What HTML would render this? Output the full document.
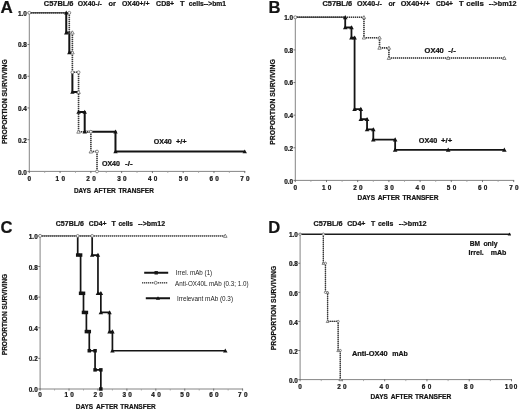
<!DOCTYPE html>
<html><head><meta charset="utf-8"><title>Figure</title>
<style>
html,body{margin:0;padding:0;background:#fff;}
body{width:520px;height:411px;overflow:hidden;font-family:"Liberation Sans", sans-serif;}
svg{display:block;font-family:"Liberation Sans", sans-serif;filter:blur(0.3px);}
</style></head>
<body>
<svg width="520" height="411" viewBox="0 0 520 411">
<rect width="520" height="411" fill="#fff"/>
<path d="M29.3 12.3V171.4H245.16" fill="none" stroke="#666" stroke-width="0.8"/>
<path d="M27.5 171.4H29.3M27.5 139.68H29.3M27.5 107.96H29.3M27.5 76.24H29.3M27.5 44.52H29.3M27.5 12.8H29.3M29.3 171.0V173.1M60.08 171.0V173.1M90.86 171.0V173.1M121.64 171.0V173.1M152.42 171.0V173.1M183.2 171.0V173.1M213.98 171.0V173.1M244.76 171.0V173.1" fill="none" stroke="#666" stroke-width="0.9"/>
<path d="M44.69 171.4V172.9M75.47 171.4V172.9M106.25 171.4V172.9M137.03 171.4V172.9M167.81 171.4V172.9M198.59 171.4V172.9M229.37 171.4V172.9" fill="none" stroke="#9a9a9a" stroke-width="0.8"/>
<text x="26.80" y="174.70" font-size="6.4" font-weight="bold" text-anchor="end" fill="#141414" stroke="#141414" stroke-width="0.22" xml:space="preserve">0.0</text>
<text x="26.80" y="142.86" font-size="6.4" font-weight="bold" text-anchor="end" fill="#141414" stroke="#141414" stroke-width="0.22" xml:space="preserve">0.2</text>
<text x="26.80" y="111.02" font-size="6.4" font-weight="bold" text-anchor="end" fill="#141414" stroke="#141414" stroke-width="0.22" xml:space="preserve">0.4</text>
<text x="26.80" y="79.18" font-size="6.4" font-weight="bold" text-anchor="end" fill="#141414" stroke="#141414" stroke-width="0.22" xml:space="preserve">0.6</text>
<text x="26.80" y="47.34" font-size="6.4" font-weight="bold" text-anchor="end" fill="#141414" stroke="#141414" stroke-width="0.22" xml:space="preserve">0.8</text>
<text x="26.80" y="15.50" font-size="6.4" font-weight="bold" text-anchor="end" fill="#141414" stroke="#141414" stroke-width="0.22" xml:space="preserve">1.0</text>
<text x="29.30" y="180.60" font-size="6.4" font-weight="bold" text-anchor="middle" fill="#141414" stroke="#141414" stroke-width="0.22" xml:space="preserve">0</text>
<text x="55.57" y="180.60" font-size="6.4" font-weight="bold" letter-spacing="2.3" fill="#141414" stroke="#141414" stroke-width="0.22" xml:space="preserve">10</text>
<text x="86.35" y="180.60" font-size="6.4" font-weight="bold" letter-spacing="2.3" fill="#141414" stroke="#141414" stroke-width="0.22" xml:space="preserve">20</text>
<text x="117.13" y="180.60" font-size="6.4" font-weight="bold" letter-spacing="2.3" fill="#141414" stroke="#141414" stroke-width="0.22" xml:space="preserve">30</text>
<text x="147.91" y="180.60" font-size="6.4" font-weight="bold" letter-spacing="2.3" fill="#141414" stroke="#141414" stroke-width="0.22" xml:space="preserve">40</text>
<text x="178.69" y="180.60" font-size="6.4" font-weight="bold" letter-spacing="2.3" fill="#141414" stroke="#141414" stroke-width="0.22" xml:space="preserve">50</text>
<text x="209.47" y="180.60" font-size="6.4" font-weight="bold" letter-spacing="2.3" fill="#141414" stroke="#141414" stroke-width="0.22" xml:space="preserve">60</text>
<text x="240.25" y="180.60" font-size="6.4" font-weight="bold" letter-spacing="2.3" fill="#141414" stroke="#141414" stroke-width="0.22" xml:space="preserve">70</text>
<text x="0.60" y="13.00" font-size="17" font-weight="bold" fill="#141414" stroke="#141414" stroke-width="0.22" xml:space="preserve">A</text>
<text x="43.80" y="6.20" font-size="6.9" font-weight="bold" textLength="29.70" lengthAdjust="spacingAndGlyphs" fill="#141414" stroke="#141414" stroke-width="0.22" xml:space="preserve">C57BL/6</text>
<text x="77.70" y="6.20" font-size="6.9" font-weight="bold" textLength="24.20" lengthAdjust="spacingAndGlyphs" fill="#141414" stroke="#141414" stroke-width="0.22" xml:space="preserve">OX40-/-</text>
<text x="108.40" y="6.20" font-size="6.9" font-weight="bold" textLength="7.40" lengthAdjust="spacingAndGlyphs" fill="#141414" stroke="#141414" stroke-width="0.22" xml:space="preserve">or</text>
<text x="121.90" y="6.20" font-size="6.9" font-weight="bold" textLength="27.70" lengthAdjust="spacingAndGlyphs" fill="#141414" stroke="#141414" stroke-width="0.22" xml:space="preserve">OX40+/+</text>
<text x="156.10" y="6.20" font-size="6.9" font-weight="bold" textLength="18.10" lengthAdjust="spacingAndGlyphs" fill="#141414" stroke="#141414" stroke-width="0.22" xml:space="preserve">CD8+</text>
<text x="180.00" y="6.20" font-size="6.9" font-weight="bold" textLength="4.60" lengthAdjust="spacingAndGlyphs" fill="#141414" stroke="#141414" stroke-width="0.22" xml:space="preserve">T</text>
<text x="188.80" y="6.20" font-size="6.9" font-weight="bold" textLength="37.20" lengthAdjust="spacingAndGlyphs" fill="#141414" stroke="#141414" stroke-width="0.22" xml:space="preserve">cells--&gt;bm1</text>
<text x="0" y="0" font-size="6.9" font-weight="bold" textLength="84.80" lengthAdjust="spacingAndGlyphs" fill="#141414" stroke="#141414" stroke-width="0.22" transform="translate(7.40 144.00) rotate(-90)" xml:space="preserve">PROPORTION SURVIVING</text>
<text x="73.90" y="193.10" font-size="6.9" font-weight="bold" textLength="17.20" lengthAdjust="spacingAndGlyphs" fill="#141414" stroke="#141414" stroke-width="0.22" xml:space="preserve">DAYS</text>
<text x="93.80" y="193.10" font-size="6.9" font-weight="bold" textLength="22.00" lengthAdjust="spacingAndGlyphs" fill="#141414" stroke="#141414" stroke-width="0.22" xml:space="preserve">AFTER</text>
<text x="118.40" y="193.10" font-size="6.9" font-weight="bold" textLength="35.50" lengthAdjust="spacingAndGlyphs" fill="#141414" stroke="#141414" stroke-width="0.22" xml:space="preserve">TRANSFER</text>
<text x="153.70" y="144.40" font-size="6.9" font-weight="bold" textLength="18.10" lengthAdjust="spacingAndGlyphs" fill="#141414" stroke="#141414" stroke-width="0.22" xml:space="preserve">OX40</text>
<text x="175.90" y="144.40" font-size="6.9" font-weight="bold" textLength="10.80" lengthAdjust="spacingAndGlyphs" fill="#141414" stroke="#141414" stroke-width="0.22" xml:space="preserve">+/+</text>
<text x="101.90" y="166.40" font-size="6.9" font-weight="bold" textLength="18.10" lengthAdjust="spacingAndGlyphs" fill="#141414" stroke="#141414" stroke-width="0.22" xml:space="preserve">OX40</text>
<text x="125.10" y="166.40" font-size="6.9" font-weight="bold" textLength="7.60" lengthAdjust="spacingAndGlyphs" fill="#141414" stroke="#141414" stroke-width="0.22" xml:space="preserve">-/-</text>
<path d="M66.24 12.8V32.62H69.31V52.45H72.39" fill="none" stroke="#141414" stroke-width="2.0" stroke-linejoin="miter"/>
<path d="M72.39 72.28V92.1H78.55" fill="none" stroke="#141414" stroke-width="2.0" stroke-linejoin="miter"/>
<path d="M78.55 111.93H84.7V131.75H115.48V151.58H244.76" fill="none" stroke="#141414" stroke-width="2.0" stroke-linejoin="miter"/>
<path d="M29 12.8H69.31M69.31 13V32.62M69 32.62H72.39M72.39 33V72.28M72 72.28H78.55M78.55 72V131.75M79 131.75H90.86M90.86 132V151.58M91 151.58H97.02M97.02 152V171.40" fill="none" stroke="#bcbcbc" stroke-width="1.45"/>
<path d="M29.3 12.8H66.24" fill="none" stroke="#555" stroke-width="1.6"/>
<path d="M29 12.8H69.31M69.31 13V32.62M69 32.62H72.39M72.39 33V72.28M72 72.28H78.55M78.55 72V131.75M79 131.75H90.86M90.86 132V151.58M91 151.58H97.02M97.02 152V171.40" fill="none" stroke="#3a3a3a" stroke-width="1.55" stroke-dasharray="1 1"/>
<circle cx="29.3" cy="12.8" r="1.45" fill="#fff" stroke="#6a6a6a" stroke-width="0.8"/>
<circle cx="69.31" cy="12.8" r="1.45" fill="#fff" stroke="#6a6a6a" stroke-width="0.8"/>
<polygon points="72.39,30.82 70.59,34.06 74.19,34.06" fill="#fff" stroke="#6a6a6a" stroke-width="0.8"/>
<polygon points="72.39,50.65 70.59,53.89 74.19,53.89" fill="#fff" stroke="#6a6a6a" stroke-width="0.8"/>
<polygon points="78.55,90.30 76.75,93.54 80.35,93.54" fill="#fff" stroke="#6a6a6a" stroke-width="0.8"/>
<polygon points="78.55,129.95 76.75,133.19 80.35,133.19" fill="#fff" stroke="#6a6a6a" stroke-width="0.8"/>
<polygon points="90.86,149.78 89.06,153.02 92.66,153.02" fill="#fff" stroke="#6a6a6a" stroke-width="0.8"/>
<circle cx="72.39" cy="72.28" r="1.45" fill="#fff" stroke="#6a6a6a" stroke-width="0.8"/>
<circle cx="78.55" cy="72.28" r="1.45" fill="#fff" stroke="#6a6a6a" stroke-width="0.8"/>
<circle cx="90.86" cy="131.75" r="1.45" fill="#fff" stroke="#6a6a6a" stroke-width="0.8"/>
<circle cx="97.02" cy="151.58" r="1.45" fill="#fff" stroke="#6a6a6a" stroke-width="0.8"/>
<circle cx="97.02" cy="171.4" r="1.45" fill="#fff" stroke="#6a6a6a" stroke-width="0.8"/>
<polygon points="66.24,10.60 64.04,14.56 68.44,14.56" fill="#141414"/>
<polygon points="66.24,30.42 64.04,34.38 68.44,34.38" fill="#141414"/>
<polygon points="69.31,50.25 67.11,54.21 71.51,54.21" fill="#141414"/>
<polygon points="72.39,89.90 70.19,93.86 74.59,93.86" fill="#141414"/>
<polygon points="78.55,109.73 76.35,113.69 80.75,113.69" fill="#141414"/>
<polygon points="84.7,109.73 82.50,113.69 86.90,113.69" fill="#141414"/>
<polygon points="84.7,129.55 82.50,133.51 86.90,133.51" fill="#141414"/>
<polygon points="115.48,129.55 113.28,133.51 117.68,133.51" fill="#141414"/>
<polygon points="115.48,149.38 113.28,153.34 117.68,153.34" fill="#141414"/>
<polygon points="244.76,149.38 242.56,153.34 246.96,153.34" fill="#141414"/>
<path d="M295.3 16.8V180.4H514.1" fill="none" stroke="#666" stroke-width="0.8"/>
<path d="M293.5 180.4H295.3M293.5 147.78H295.3M293.5 115.16H295.3M293.5 82.54H295.3M293.5 49.92H295.3M293.5 17.3H295.3M295.3 180.0V182.1M326.5 180.0V182.1M357.7 180.0V182.1M388.9 180.0V182.1M420.1 180.0V182.1M451.3 180.0V182.1M482.5 180.0V182.1M513.7 180.0V182.1" fill="none" stroke="#666" stroke-width="0.9"/>
<path d="M310.9 180.4V181.9M342.1 180.4V181.9M373.3 180.4V181.9M404.5 180.4V181.9M435.7 180.4V181.9M466.9 180.4V181.9M498.1 180.4V181.9" fill="none" stroke="#9a9a9a" stroke-width="0.8"/>
<text x="293.10" y="183.80" font-size="6.4" font-weight="bold" text-anchor="end" fill="#141414" stroke="#141414" stroke-width="0.22" xml:space="preserve">0.0</text>
<text x="293.10" y="151.02" font-size="6.4" font-weight="bold" text-anchor="end" fill="#141414" stroke="#141414" stroke-width="0.22" xml:space="preserve">0.2</text>
<text x="293.10" y="118.24" font-size="6.4" font-weight="bold" text-anchor="end" fill="#141414" stroke="#141414" stroke-width="0.22" xml:space="preserve">0.4</text>
<text x="293.10" y="85.46" font-size="6.4" font-weight="bold" text-anchor="end" fill="#141414" stroke="#141414" stroke-width="0.22" xml:space="preserve">0.6</text>
<text x="293.10" y="52.68" font-size="6.4" font-weight="bold" text-anchor="end" fill="#141414" stroke="#141414" stroke-width="0.22" xml:space="preserve">0.8</text>
<text x="293.10" y="19.90" font-size="6.4" font-weight="bold" text-anchor="end" fill="#141414" stroke="#141414" stroke-width="0.22" xml:space="preserve">1.0</text>
<text x="295.30" y="189.70" font-size="6.4" font-weight="bold" text-anchor="middle" fill="#141414" stroke="#141414" stroke-width="0.22" xml:space="preserve">0</text>
<text x="321.99" y="189.70" font-size="6.4" font-weight="bold" letter-spacing="2.3" fill="#141414" stroke="#141414" stroke-width="0.22" xml:space="preserve">10</text>
<text x="353.19" y="189.70" font-size="6.4" font-weight="bold" letter-spacing="2.3" fill="#141414" stroke="#141414" stroke-width="0.22" xml:space="preserve">20</text>
<text x="384.39" y="189.70" font-size="6.4" font-weight="bold" letter-spacing="2.3" fill="#141414" stroke="#141414" stroke-width="0.22" xml:space="preserve">30</text>
<text x="415.59" y="189.70" font-size="6.4" font-weight="bold" letter-spacing="2.3" fill="#141414" stroke="#141414" stroke-width="0.22" xml:space="preserve">40</text>
<text x="446.79" y="189.70" font-size="6.4" font-weight="bold" letter-spacing="2.3" fill="#141414" stroke="#141414" stroke-width="0.22" xml:space="preserve">50</text>
<text x="477.99" y="189.70" font-size="6.4" font-weight="bold" letter-spacing="2.3" fill="#141414" stroke="#141414" stroke-width="0.22" xml:space="preserve">60</text>
<text x="509.19" y="189.70" font-size="6.4" font-weight="bold" letter-spacing="2.3" fill="#141414" stroke="#141414" stroke-width="0.22" xml:space="preserve">70</text>
<text x="268.40" y="13.20" font-size="16.6" font-weight="bold" fill="#141414" stroke="#141414" stroke-width="0.22" xml:space="preserve">B</text>
<text x="322.40" y="6.30" font-size="6.9" font-weight="bold" textLength="29.70" lengthAdjust="spacingAndGlyphs" fill="#141414" stroke="#141414" stroke-width="0.22" xml:space="preserve">C57BL/6</text>
<text x="357.00" y="6.30" font-size="6.9" font-weight="bold" textLength="24.90" lengthAdjust="spacingAndGlyphs" fill="#141414" stroke="#141414" stroke-width="0.22" xml:space="preserve">OX40-/-</text>
<text x="388.40" y="6.30" font-size="6.9" font-weight="bold" textLength="6.90" lengthAdjust="spacingAndGlyphs" fill="#141414" stroke="#141414" stroke-width="0.22" xml:space="preserve">or</text>
<text x="400.70" y="6.30" font-size="6.9" font-weight="bold" textLength="29.20" lengthAdjust="spacingAndGlyphs" fill="#141414" stroke="#141414" stroke-width="0.22" xml:space="preserve">OX40+/+</text>
<text x="435.90" y="6.30" font-size="6.9" font-weight="bold" textLength="17.10" lengthAdjust="spacingAndGlyphs" fill="#141414" stroke="#141414" stroke-width="0.22" xml:space="preserve">CD4+</text>
<text x="458.90" y="6.30" font-size="6.9" font-weight="bold" textLength="4.70" lengthAdjust="spacingAndGlyphs" fill="#141414" stroke="#141414" stroke-width="0.22" xml:space="preserve">T</text>
<text x="466.30" y="6.30" font-size="6.9" font-weight="bold" textLength="17.50" lengthAdjust="spacingAndGlyphs" fill="#141414" stroke="#141414" stroke-width="0.22" xml:space="preserve">cells</text>
<text x="488.80" y="6.30" font-size="6.9" font-weight="bold" textLength="27.70" lengthAdjust="spacingAndGlyphs" fill="#141414" stroke="#141414" stroke-width="0.22" xml:space="preserve">--&gt;bm12</text>
<text x="0" y="0" font-size="6.9" font-weight="bold" textLength="85.50" lengthAdjust="spacingAndGlyphs" fill="#141414" stroke="#141414" stroke-width="0.22" transform="translate(275.00 144.70) rotate(-90)" xml:space="preserve">PROPORTION SURVIVING</text>
<text x="357.60" y="199.50" font-size="6.9" font-weight="bold" textLength="17.40" lengthAdjust="spacingAndGlyphs" fill="#141414" stroke="#141414" stroke-width="0.22" xml:space="preserve">DAYS</text>
<text x="377.70" y="199.50" font-size="6.9" font-weight="bold" textLength="22.20" lengthAdjust="spacingAndGlyphs" fill="#141414" stroke="#141414" stroke-width="0.22" xml:space="preserve">AFTER</text>
<text x="402.60" y="199.50" font-size="6.9" font-weight="bold" textLength="35.90" lengthAdjust="spacingAndGlyphs" fill="#141414" stroke="#141414" stroke-width="0.22" xml:space="preserve">TRANSFER</text>
<text x="424.60" y="52.60" font-size="6.9" font-weight="bold" textLength="19.20" lengthAdjust="spacingAndGlyphs" fill="#141414" stroke="#141414" stroke-width="0.22" xml:space="preserve">OX40</text>
<text x="448.30" y="52.60" font-size="6.9" font-weight="bold" textLength="7.50" lengthAdjust="spacingAndGlyphs" fill="#141414" stroke="#141414" stroke-width="0.22" xml:space="preserve">-/-</text>
<text x="418.80" y="143.20" font-size="6.9" font-weight="bold" textLength="18.50" lengthAdjust="spacingAndGlyphs" fill="#141414" stroke="#141414" stroke-width="0.22" xml:space="preserve">OX40</text>
<text x="441.10" y="143.20" font-size="6.9" font-weight="bold" textLength="11.20" lengthAdjust="spacingAndGlyphs" fill="#141414" stroke="#141414" stroke-width="0.22" xml:space="preserve">+/+</text>
<path d="M345.22 17.3V27.49H351.46V37.69H354.58V109.04H360.82V119.24H367.06V129.43H373.3V139.62H395.14V149.82H504.34" fill="none" stroke="#141414" stroke-width="1.8" stroke-linejoin="miter"/>
<path d="M295 17.3H363.94M363.94 17V37.69M364 37.69H379.54M379.54 38V47.88M380 47.88H388.90M388.9 48V58.08M389 58.08H504.34" fill="none" stroke="#bcbcbc" stroke-width="1.45"/>
<path d="M295.3 17.3H345.22" fill="none" stroke="#555" stroke-width="1.6"/>
<path d="M295 17.3H363.94M363.94 17V37.69M364 37.69H379.54M379.54 38V47.88M380 47.88H388.90M388.9 48V58.08M389 58.08H504.34" fill="none" stroke="#3a3a3a" stroke-width="1.55" stroke-dasharray="1 1"/>
<circle cx="295.3" cy="17.3" r="1.5" fill="#fff" stroke="#6a6a6a" stroke-width="0.8"/>
<polygon points="363.94,15.60 362.24,18.66 365.64,18.66" fill="#fff" stroke="#6a6a6a" stroke-width="0.8"/>
<polygon points="363.94,35.99 362.24,39.05 365.64,39.05" fill="#fff" stroke="#6a6a6a" stroke-width="0.8"/>
<polygon points="379.54,35.99 377.84,39.05 381.24,39.05" fill="#fff" stroke="#6a6a6a" stroke-width="0.8"/>
<polygon points="379.54,46.18 377.84,49.24 381.24,49.24" fill="#fff" stroke="#6a6a6a" stroke-width="0.8"/>
<polygon points="388.9,46.18 387.20,49.24 390.60,49.24" fill="#fff" stroke="#6a6a6a" stroke-width="0.8"/>
<polygon points="388.9,56.38 387.20,59.44 390.60,59.44" fill="#fff" stroke="#6a6a6a" stroke-width="0.8"/>
<polygon points="448.18,56.38 446.48,59.44 449.88,59.44" fill="#fff" stroke="#6a6a6a" stroke-width="0.8"/>
<polygon points="504.34,56.38 502.64,59.44 506.04,59.44" fill="#fff" stroke="#6a6a6a" stroke-width="0.8"/>
<polygon points="345.22,15.00 342.92,19.14 347.52,19.14" fill="#141414"/>
<polygon points="345.22,25.19 342.92,29.33 347.52,29.33" fill="#141414"/>
<polygon points="351.46,25.19 349.16,29.33 353.76,29.33" fill="#141414"/>
<polygon points="351.46,35.39 349.16,39.53 353.76,39.53" fill="#141414"/>
<polygon points="354.58,35.39 352.28,39.53 356.88,39.53" fill="#141414"/>
<polygon points="354.58,106.74 352.28,110.88 356.88,110.88" fill="#141414"/>
<polygon points="360.82,106.74 358.52,110.88 363.12,110.88" fill="#141414"/>
<polygon points="360.82,116.94 358.52,121.08 363.12,121.08" fill="#141414"/>
<polygon points="367.06,116.94 364.76,121.08 369.36,121.08" fill="#141414"/>
<polygon points="367.06,127.13 364.76,131.27 369.36,131.27" fill="#141414"/>
<polygon points="373.3,127.13 371.00,131.27 375.60,131.27" fill="#141414"/>
<polygon points="373.3,137.32 371.00,141.46 375.60,141.46" fill="#141414"/>
<polygon points="395.14,137.32 392.84,141.46 397.44,141.46" fill="#141414"/>
<polygon points="395.14,147.52 392.84,151.66 397.44,151.66" fill="#141414"/>
<polygon points="504.34,147.52 502.04,151.66 506.64,151.66" fill="#141414"/>
<polygon points="448.18,147.52 445.88,151.66 450.48,151.66" fill="#141414"/>
<path d="M40.1 235.4V389.0H243.01000000000002" fill="none" stroke="#666" stroke-width="0.8"/>
<path d="M38.300000000000004 389.0H40.1M38.300000000000004 358.38H40.1M38.300000000000004 327.76H40.1M38.300000000000004 297.14H40.1M38.300000000000004 266.52H40.1M38.300000000000004 235.9H40.1M40.1 388.6V390.7M69.03 388.6V390.7M97.96 388.6V390.7M126.89 388.6V390.7M155.82 388.6V390.7M184.75 388.6V390.7M213.68 388.6V390.7M242.61 388.6V390.7" fill="none" stroke="#666" stroke-width="0.9"/>
<path d="M54.56 389.0V390.5M83.5 389.0V390.5M112.42 389.0V390.5M141.35 389.0V390.5M170.28 389.0V390.5M199.21 389.0V390.5M228.14 389.0V390.5" fill="none" stroke="#9a9a9a" stroke-width="0.8"/>
<text x="37.70" y="391.90" font-size="6.4" font-weight="bold" text-anchor="end" fill="#141414" stroke="#141414" stroke-width="0.22" xml:space="preserve">0.0</text>
<text x="37.70" y="361.34" font-size="6.4" font-weight="bold" text-anchor="end" fill="#141414" stroke="#141414" stroke-width="0.22" xml:space="preserve">0.2</text>
<text x="37.70" y="330.78" font-size="6.4" font-weight="bold" text-anchor="end" fill="#141414" stroke="#141414" stroke-width="0.22" xml:space="preserve">0.4</text>
<text x="37.70" y="300.22" font-size="6.4" font-weight="bold" text-anchor="end" fill="#141414" stroke="#141414" stroke-width="0.22" xml:space="preserve">0.6</text>
<text x="37.70" y="269.66" font-size="6.4" font-weight="bold" text-anchor="end" fill="#141414" stroke="#141414" stroke-width="0.22" xml:space="preserve">0.8</text>
<text x="37.70" y="239.10" font-size="6.4" font-weight="bold" text-anchor="end" fill="#141414" stroke="#141414" stroke-width="0.22" xml:space="preserve">1.0</text>
<text x="40.10" y="397.40" font-size="6.4" font-weight="bold" text-anchor="middle" fill="#141414" stroke="#141414" stroke-width="0.22" xml:space="preserve">0</text>
<text x="64.52" y="397.40" font-size="6.4" font-weight="bold" letter-spacing="2.3" fill="#141414" stroke="#141414" stroke-width="0.22" xml:space="preserve">10</text>
<text x="93.45" y="397.40" font-size="6.4" font-weight="bold" letter-spacing="2.3" fill="#141414" stroke="#141414" stroke-width="0.22" xml:space="preserve">20</text>
<text x="122.38" y="397.40" font-size="6.4" font-weight="bold" letter-spacing="2.3" fill="#141414" stroke="#141414" stroke-width="0.22" xml:space="preserve">30</text>
<text x="151.31" y="397.40" font-size="6.4" font-weight="bold" letter-spacing="2.3" fill="#141414" stroke="#141414" stroke-width="0.22" xml:space="preserve">40</text>
<text x="180.24" y="397.40" font-size="6.4" font-weight="bold" letter-spacing="2.3" fill="#141414" stroke="#141414" stroke-width="0.22" xml:space="preserve">50</text>
<text x="209.17" y="397.40" font-size="6.4" font-weight="bold" letter-spacing="2.3" fill="#141414" stroke="#141414" stroke-width="0.22" xml:space="preserve">60</text>
<text x="238.10" y="397.40" font-size="6.4" font-weight="bold" letter-spacing="2.3" fill="#141414" stroke="#141414" stroke-width="0.22" xml:space="preserve">70</text>
<text x="0.40" y="232.70" font-size="16.6" font-weight="bold" fill="#141414" stroke="#141414" stroke-width="0.22" xml:space="preserve">C</text>
<text x="55.80" y="225.60" font-size="6.9" font-weight="bold" textLength="28.10" lengthAdjust="spacingAndGlyphs" fill="#141414" stroke="#141414" stroke-width="0.22" xml:space="preserve">C57BL/6</text>
<text x="88.80" y="225.60" font-size="6.9" font-weight="bold" textLength="17.70" lengthAdjust="spacingAndGlyphs" fill="#141414" stroke="#141414" stroke-width="0.22" xml:space="preserve">CD4+</text>
<text x="111.40" y="225.60" font-size="6.9" font-weight="bold" textLength="4.30" lengthAdjust="spacingAndGlyphs" fill="#141414" stroke="#141414" stroke-width="0.22" xml:space="preserve">T</text>
<text x="118.40" y="225.60" font-size="6.9" font-weight="bold" textLength="14.60" lengthAdjust="spacingAndGlyphs" fill="#141414" stroke="#141414" stroke-width="0.22" xml:space="preserve">cells</text>
<text x="138.00" y="225.60" font-size="6.9" font-weight="bold" textLength="27.10" lengthAdjust="spacingAndGlyphs" fill="#141414" stroke="#141414" stroke-width="0.22" xml:space="preserve">--&gt;bm12</text>
<text x="0" y="0" font-size="6.9" font-weight="bold" textLength="81.40" lengthAdjust="spacingAndGlyphs" fill="#141414" stroke="#141414" stroke-width="0.22" transform="translate(7.40 355.20) rotate(-90)" xml:space="preserve">PROPORTION SURVIVING</text>
<text x="75.80" y="409.00" font-size="6.9" font-weight="bold" textLength="17.40" lengthAdjust="spacingAndGlyphs" fill="#141414" stroke="#141414" stroke-width="0.22" xml:space="preserve">DAYS</text>
<text x="96.10" y="409.00" font-size="6.9" font-weight="bold" textLength="22.00" lengthAdjust="spacingAndGlyphs" fill="#141414" stroke="#141414" stroke-width="0.22" xml:space="preserve">AFTER</text>
<text x="120.30" y="409.00" font-size="6.9" font-weight="bold" textLength="35.40" lengthAdjust="spacingAndGlyphs" fill="#141414" stroke="#141414" stroke-width="0.22" xml:space="preserve">TRANSFER</text>
<path d="M77.71 235.9V255.04H80.6V293.31H83.5V312.45H86.39V331.59H89.28V350.73H95.07V369.86H100.85V389.0" fill="none" stroke="#141414" stroke-width="1.7" stroke-linejoin="miter"/>
<path d="M92.17 235.9V255.04H97.96V293.31H100.85V312.45H109.53V331.59H112.42V350.73H225.25" fill="none" stroke="#141414" stroke-width="1.7" stroke-linejoin="miter"/>
<path d="M40 235.9H225.25" fill="none" stroke="#9a9a9a" stroke-width="1.35"/>
<path d="M40.1 235.9H92.17" fill="none" stroke="#7a7a7a" stroke-width="1.3"/>
<path d="M40 235.9H225.25" fill="none" stroke="#555" stroke-width="1.45" stroke-dasharray="1 1"/>
<circle cx="40.1" cy="235.9" r="1.5" fill="#fff" stroke="#6a6a6a" stroke-width="0.8"/>
<circle cx="77.71" cy="235.9" r="1.4" fill="#fff" stroke="#6a6a6a" stroke-width="0.8"/>
<circle cx="92.17" cy="235.9" r="1.4" fill="#fff" stroke="#6a6a6a" stroke-width="0.8"/>
<polygon points="225.25,234.10 223.45,237.34 227.05,237.34" fill="#fff" stroke="#6a6a6a" stroke-width="0.8"/>
<rect x="75.96" y="253.29" width="3.5" height="3.5" fill="#141414"/>
<rect x="78.85" y="253.29" width="3.5" height="3.5" fill="#141414"/>
<rect x="78.85" y="291.56" width="3.5" height="3.5" fill="#141414"/>
<rect x="81.75" y="291.56" width="3.5" height="3.5" fill="#141414"/>
<rect x="81.75" y="310.70" width="3.5" height="3.5" fill="#141414"/>
<rect x="84.64" y="310.70" width="3.5" height="3.5" fill="#141414"/>
<rect x="84.64" y="329.84" width="3.5" height="3.5" fill="#141414"/>
<rect x="87.53" y="329.84" width="3.5" height="3.5" fill="#141414"/>
<rect x="87.53" y="348.98" width="3.5" height="3.5" fill="#141414"/>
<rect x="93.32" y="348.98" width="3.5" height="3.5" fill="#141414"/>
<rect x="93.32" y="368.11" width="3.5" height="3.5" fill="#141414"/>
<rect x="99.10" y="368.11" width="3.5" height="3.5" fill="#141414"/>
<rect x="99.10" y="387.25" width="3.5" height="3.5" fill="#141414"/>
<polygon points="92.17,252.79 89.92,256.84 94.42,256.84" fill="#141414"/>
<polygon points="97.96,252.79 95.71,256.84 100.21,256.84" fill="#141414"/>
<polygon points="97.96,291.06 95.71,295.11 100.21,295.11" fill="#141414"/>
<polygon points="100.85,291.06 98.60,295.11 103.10,295.11" fill="#141414"/>
<polygon points="100.85,310.20 98.60,314.25 103.10,314.25" fill="#141414"/>
<polygon points="109.53,310.20 107.28,314.25 111.78,314.25" fill="#141414"/>
<polygon points="109.53,329.34 107.28,333.39 111.78,333.39" fill="#141414"/>
<polygon points="112.42,329.34 110.17,333.39 114.67,333.39" fill="#141414"/>
<polygon points="112.42,348.48 110.17,352.53 114.67,352.53" fill="#141414"/>
<polygon points="225.25,348.48 223.00,352.53 227.50,352.53" fill="#141414"/>
<path d="M144.2 272.8H168.2M145.8 298.2H170" stroke="#141414" stroke-width="2.0" stroke-linejoin="miter" fill="none"/>
<path d="M142 282.8H167.7" stroke="#c4c4c4" stroke-width="1.4" fill="none"/><path d="M142 282.8H167.7" stroke="#555" stroke-width="1.45" stroke-dasharray="1 1" fill="none"/>
<rect x="154.5" y="271.1" width="3.4" height="3.4" fill="#141414"/>
<circle cx="155.7" cy="282.8" r="1.5" fill="#fff" stroke="#6a6a6a" stroke-width="0.8"/>
<polygon points="158,296.2 155.9,299.8 160.1,299.8" fill="#141414"/>
<text x="175.80" y="275.20" font-size="6.5" textLength="36.40" lengthAdjust="spacingAndGlyphs" fill="#222" xml:space="preserve">Irrel. mAb (1)</text>
<text x="175.10" y="285.50" font-size="6.5" textLength="73.40" lengthAdjust="spacingAndGlyphs" fill="#222" xml:space="preserve">Anti-OX40L mAb (0.3; 1.0)</text>
<text x="176.90" y="300.80" font-size="6.5" textLength="56.10" lengthAdjust="spacingAndGlyphs" fill="#222" xml:space="preserve">Irrelevant mAb (0.3)</text>
<path d="M300.1 233.7V379.6H511.9" fill="none" stroke="#666" stroke-width="0.8"/>
<path d="M298.3 379.6H300.1M298.3 350.52H300.1M298.3 321.44H300.1M298.3 292.36H300.1M298.3 263.28H300.1M298.3 234.2H300.1M300.1 379.20000000000005V381.3M342.38 379.20000000000005V381.3M384.66 379.20000000000005V381.3M426.94 379.20000000000005V381.3M469.22 379.20000000000005V381.3M511.5 379.20000000000005V381.3" fill="none" stroke="#666" stroke-width="0.9"/>
<path d="M321.24 379.6V381.1M363.52 379.6V381.1M405.8 379.6V381.1M448.08 379.6V381.1M490.36 379.6V381.1" fill="none" stroke="#9a9a9a" stroke-width="0.8"/>
<text x="297.90" y="383.00" font-size="6.4" font-weight="bold" text-anchor="end" fill="#141414" stroke="#141414" stroke-width="0.22" xml:space="preserve">0.0</text>
<text x="297.90" y="353.84" font-size="6.4" font-weight="bold" text-anchor="end" fill="#141414" stroke="#141414" stroke-width="0.22" xml:space="preserve">0.2</text>
<text x="297.90" y="324.68" font-size="6.4" font-weight="bold" text-anchor="end" fill="#141414" stroke="#141414" stroke-width="0.22" xml:space="preserve">0.4</text>
<text x="297.90" y="295.52" font-size="6.4" font-weight="bold" text-anchor="end" fill="#141414" stroke="#141414" stroke-width="0.22" xml:space="preserve">0.6</text>
<text x="297.90" y="266.36" font-size="6.4" font-weight="bold" text-anchor="end" fill="#141414" stroke="#141414" stroke-width="0.22" xml:space="preserve">0.8</text>
<text x="297.90" y="237.20" font-size="6.4" font-weight="bold" text-anchor="end" fill="#141414" stroke="#141414" stroke-width="0.22" xml:space="preserve">1.0</text>
<text x="300.10" y="388.80" font-size="6.4" font-weight="bold" text-anchor="middle" fill="#141414" stroke="#141414" stroke-width="0.22" xml:space="preserve">0</text>
<text x="337.27" y="388.80" font-size="6.4" font-weight="bold" letter-spacing="2.3" fill="#141414" stroke="#141414" stroke-width="0.22" xml:space="preserve">20</text>
<text x="379.55" y="388.80" font-size="6.4" font-weight="bold" letter-spacing="2.3" fill="#141414" stroke="#141414" stroke-width="0.22" xml:space="preserve">40</text>
<text x="421.83" y="388.80" font-size="6.4" font-weight="bold" letter-spacing="2.3" fill="#141414" stroke="#141414" stroke-width="0.22" xml:space="preserve">60</text>
<text x="464.11" y="388.80" font-size="6.4" font-weight="bold" letter-spacing="2.3" fill="#141414" stroke="#141414" stroke-width="0.22" xml:space="preserve">80</text>
<text x="504.86" y="388.80" font-size="6.4" font-weight="bold" letter-spacing="0.9" fill="#141414" stroke="#141414" stroke-width="0.22" xml:space="preserve">100</text>
<text x="268.30" y="233.00" font-size="16.6" font-weight="bold" fill="#141414" stroke="#141414" stroke-width="0.22" xml:space="preserve">D</text>
<text x="313.40" y="225.80" font-size="6.9" font-weight="bold" textLength="29.20" lengthAdjust="spacingAndGlyphs" fill="#141414" stroke="#141414" stroke-width="0.22" xml:space="preserve">C57BL/6</text>
<text x="347.30" y="225.80" font-size="6.9" font-weight="bold" textLength="18.10" lengthAdjust="spacingAndGlyphs" fill="#141414" stroke="#141414" stroke-width="0.22" xml:space="preserve">CD4+</text>
<text x="371.10" y="225.80" font-size="6.9" font-weight="bold" textLength="4.20" lengthAdjust="spacingAndGlyphs" fill="#141414" stroke="#141414" stroke-width="0.22" xml:space="preserve">T</text>
<text x="378.00" y="225.80" font-size="6.9" font-weight="bold" textLength="15.30" lengthAdjust="spacingAndGlyphs" fill="#141414" stroke="#141414" stroke-width="0.22" xml:space="preserve">cells</text>
<text x="398.80" y="225.80" font-size="6.9" font-weight="bold" textLength="27.80" lengthAdjust="spacingAndGlyphs" fill="#141414" stroke="#141414" stroke-width="0.22" xml:space="preserve">--&gt;bm12</text>
<text x="0" y="0" font-size="6.9" font-weight="bold" textLength="84.40" lengthAdjust="spacingAndGlyphs" fill="#141414" stroke="#141414" stroke-width="0.22" transform="translate(275.90 350.20) rotate(-90)" xml:space="preserve">PROPORTION SURVIVING</text>
<text x="370.40" y="399.00" font-size="6.9" font-weight="bold" textLength="17.60" lengthAdjust="spacingAndGlyphs" fill="#141414" stroke="#141414" stroke-width="0.22" xml:space="preserve">DAYS</text>
<text x="390.70" y="399.00" font-size="6.9" font-weight="bold" textLength="22.00" lengthAdjust="spacingAndGlyphs" fill="#141414" stroke="#141414" stroke-width="0.22" xml:space="preserve">AFTER</text>
<text x="414.90" y="399.00" font-size="6.9" font-weight="bold" textLength="36.40" lengthAdjust="spacingAndGlyphs" fill="#141414" stroke="#141414" stroke-width="0.22" xml:space="preserve">TRANSFER</text>
<text x="469.80" y="246.30" font-size="6.9" font-weight="bold" textLength="10.30" lengthAdjust="spacingAndGlyphs" fill="#141414" stroke="#141414" stroke-width="0.22" xml:space="preserve">BM</text>
<text x="483.40" y="246.30" font-size="6.9" font-weight="bold" textLength="14.20" lengthAdjust="spacingAndGlyphs" fill="#141414" stroke="#141414" stroke-width="0.22" xml:space="preserve">only</text>
<text x="468.60" y="255.00" font-size="6.9" font-weight="bold" textLength="15.20" lengthAdjust="spacingAndGlyphs" fill="#141414" stroke="#141414" stroke-width="0.22" xml:space="preserve">Irrel.</text>
<text x="490.70" y="255.00" font-size="6.9" font-weight="bold" textLength="15.70" lengthAdjust="spacingAndGlyphs" fill="#141414" stroke="#141414" stroke-width="0.22" xml:space="preserve">mAb</text>
<text x="351.90" y="356.20" font-size="6.9" font-weight="bold" textLength="35.80" lengthAdjust="spacingAndGlyphs" fill="#141414" stroke="#141414" stroke-width="0.22" xml:space="preserve">Anti-OX40</text>
<text x="392.30" y="356.20" font-size="6.9" font-weight="bold" textLength="15.60" lengthAdjust="spacingAndGlyphs" fill="#141414" stroke="#141414" stroke-width="0.22" xml:space="preserve">mAb</text>
<path d="M323.35 234V263.28M323 263.28H325.47M325.47 263V292.36M325 292.36H327.58M327.58 292V321.44M328 321.44H338.15M338.15 321V350.52M338 350.52H340.27M340.27 351V379.60" fill="none" stroke="#909090" stroke-width="1.20"/>
<path d="M323.35 234V263.28M323 263.28H325.47M325.47 263V292.36M325 292.36H327.58M327.58 292V321.44M328 321.44H338.15M338.15 321V350.52M338 350.52H340.27M340.27 351V379.60" fill="none" stroke="#3a3a3a" stroke-width="1.3" stroke-dasharray="1 1"/>
<path d="M300.1 234.2H510.44" fill="none" stroke="#1c1c1c" stroke-width="1.4"/>
<circle cx="300.1" cy="234.2" r="1.2" fill="#fff" stroke="#6a6a6a" stroke-width="0.8"/>
<circle cx="323.35" cy="234.2" r="1.2" fill="#fff" stroke="#6a6a6a" stroke-width="0.8"/>
<polygon points="323.35,261.93 322.00,264.36 324.70,264.36" fill="#fff" stroke="#6a6a6a" stroke-width="0.8"/>
<polygon points="327.58,291.01 326.23,293.44 328.93,293.44" fill="#fff" stroke="#6a6a6a" stroke-width="0.8"/>
<polygon points="327.58,320.09 326.23,322.52 328.93,322.52" fill="#fff" stroke="#6a6a6a" stroke-width="0.8"/>
<polygon points="338.15,349.17 336.80,351.60 339.50,351.60" fill="#fff" stroke="#6a6a6a" stroke-width="0.8"/>
<polygon points="340.27,378.25 338.92,380.68 341.62,380.68" fill="#fff" stroke="#6a6a6a" stroke-width="0.8"/>
<circle cx="325.47" cy="263.28" r="1.1" fill="#fff" stroke="#6a6a6a" stroke-width="0.8"/>
<circle cx="325.47" cy="292.36" r="1.1" fill="#fff" stroke="#6a6a6a" stroke-width="0.8"/>
<circle cx="338.15" cy="321.44" r="1.1" fill="#fff" stroke="#6a6a6a" stroke-width="0.8"/>
<circle cx="340.27" cy="350.52" r="1.1" fill="#fff" stroke="#6a6a6a" stroke-width="0.8"/>
<polygon points="509.39,232.50 507.69,235.56 511.09,235.56" fill="#141414"/>
</svg>
</body></html>
